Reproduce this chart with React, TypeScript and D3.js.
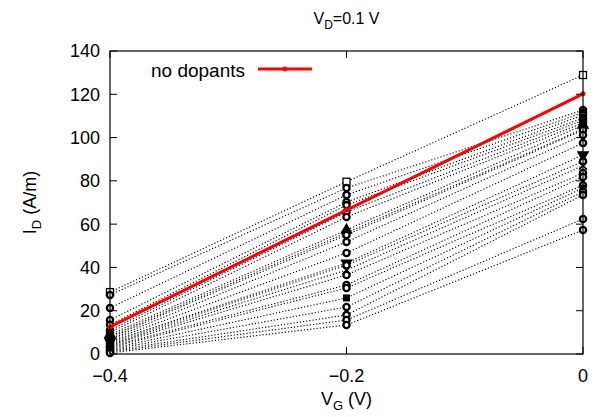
import React from 'react';
import * as d3 from 'd3';

const vg = [-0.4, -0.2, 0];
const noDopants = [12.5, 66.5, 120.2];

// doped samples, value at each gate voltage
const dopedAtM04 = [28.6, 27.3, 21.3, 15.7, 13.5, 11.0, 10.0, 9.0, 8.2, 7.5, 6.8, 6.2, 5.6, 5.0, 4.5, 4.0, 3.5, 3.0, 2.5, 2.0, 1.5, 1.0, 0.5];
const dopedAtM02 = [79.6, 76.7, 73.5, 70.2, 68.8, 65.6, 63.3, 57.3, 56.0, 55.0, 51.8, 46.7, 42.0, 41.0, 38.8, 36.5, 31.9, 30.5, 25.9, 21.7, 18.0, 15.7, 13.4];
const dopedAt0 = [128.9, 112.7, 111.5, 110.4, 109.0, 108.0, 106.8, 105.8, 104.0, 103.5, 101.2, 97.5, 92.0, 89.0, 87.0, 83.6, 81.8, 78.0, 76.7, 75.0, 73.5, 62.4, 57.3];
const markerTypes = ['square', 'circle', 'circle', 'circle', 'circle', 'circle', 'circle', 'triangle', 'star', 'circle', 'circle', 'circle', 'triangleDown', 'circle', 'cross', 'circle', 'circle', 'circle', 'filledSquare', 'circle', 'circle', 'circle', 'circle'];

const xTicks = [-0.4, -0.2, 0];
const yTicks = [0, 20, 40, 60, 80, 100, 120, 140];

const W = 600;
const H = 417;
const left = 110, right = 583, top = 51, bottom = 354;
const font = 'Liberation Sans, Arial, sans-serif';

const x = d3.scaleLinear().domain([-0.4, 0]).range([left, right]);
const y = d3.scaleLinear().domain([0, 140]).range([bottom, top]);

const line = d3.line<[number, number]>().x(d => x(d[0])).y(d => y(d[1]));

const fmt = (v: number) => (v < 0 ? '\u2212' + Math.abs(v) : String(v));

function Marker({ type, cx, cy }: { type: string; cx: number; cy: number }) {
  if (type === 'circle') return <circle cx={cx} cy={cy} r={3.1} fill="white" stroke="black" strokeWidth={2.3} />;
  if (type === 'square') return <rect x={cx - 3.5} y={cy - 3.5} width={7} height={7} fill="white" stroke="black" strokeWidth={1.3} />;
  if (type === 'filledSquare') return <rect x={cx - 3.5} y={cy - 3.5} width={7} height={7} fill="black" />;
  const symMap: Record<string, d3.SymbolType> = {
    triangle: d3.symbolTriangle,
    triangleDown: d3.symbolTriangle,
    star: d3.symbolAsterisk,
    cross: d3.symbolX,
  };
  const p = d3.symbol().type(symMap[type] || d3.symbolCircle).size(42)() || '';
  const rot = type === 'triangleDown' ? 180 : 0;
  const filled = type === 'triangle' || type === 'triangleDown';
  return (
    <path
      d={p}
      transform={`translate(${cx},${cy}) rotate(${rot})`}
      fill={filled ? 'black' : 'none'}
      stroke="black"
      strokeWidth={1.6}
    />
  );
}

export default function App() {
  const series = dopedAtM04.map((_, i) => ({
    pts: [
      [vg[0], dopedAtM04[i]],
      [vg[1], dopedAtM02[i]],
      [vg[2], dopedAt0[i]],
    ] as [number, number][],
    type: markerTypes[i],
  }));
  const red = vg.map((v, i) => [v, noDopants[i]] as [number, number]);

  return (
    <svg width={W} height={H} style={{ position: 'absolute', left: 0, top: 0, background: 'white' }} fontFamily={font}>
      <rect x={0} y={0} width={W} height={H} fill="white" />
      {/* dotted doped lines */}
      {series.map((s, i) => (
        <path key={'l' + i} d={line(s.pts) || ''} fill="none" stroke="black" strokeWidth={1.1} strokeDasharray="1.2,2" />
      ))}
      {series.map((s, i) =>
        s.pts.map((p, j) => <Marker key={'m' + i + '-' + j} type={s.type} cx={x(p[0])} cy={y(p[1])} />)
      )}
      {/* no dopants */}
      <path d={line(red) || ''} fill="none" stroke="#ff0000" strokeWidth={3} />
      {red.map((p, j) => (
        <circle key={'r' + j} cx={x(p[0])} cy={y(p[1])} r={2.5} fill="#ff0000" />
      ))}

      {/* frame */}
      <rect x={left} y={top} width={right - left} height={bottom - top} fill="none" stroke="black" strokeWidth={1.2} />
      {yTicks.map(t => (
        <g key={'yt' + t}>
          <line x1={left} x2={left + 7} y1={y(t)} y2={y(t)} stroke="black" />
          <line x1={right - 7} x2={right} y1={y(t)} y2={y(t)} stroke="black" />
          <text x={left - 10} y={y(t)} dy="0.36em" textAnchor="end" fontSize={18}>
            {t}
          </text>
        </g>
      ))}
      {xTicks.map(t => (
        <g key={'xt' + t}>
          <line x1={x(t)} x2={x(t)} y1={bottom} y2={bottom - 7} stroke="black" />
          <line x1={x(t)} x2={x(t)} y1={top} y2={top + 7} stroke="black" />
          <text x={x(t)} y={bottom + 28} textAnchor="middle" fontSize={18}>
            {fmt(t)}
          </text>
        </g>
      ))}

      {/* legend */}
      <text x={245} y={70} dy="0.36em" textAnchor="end" fontSize={19}>
        no dopants
      </text>
      <line x1={258} x2={312} y1={69} y2={69} stroke="#ff0000" strokeWidth={3} />
      <circle cx={285} cy={69} r={2.5} fill="#ff0000" />

      {/* titles */}
      <text x={(left + right) / 2} y={24} textAnchor="middle" fontSize={16}>
        V<tspan fontSize={12} dy={5}>D</tspan>
        <tspan dy={-5}>=0.1 V</tspan>
      </text>
      <text x={(left + right) / 2} y={405} textAnchor="middle" fontSize={18}>
        V<tspan fontSize={13} dy={5}>G</tspan>
        <tspan dy={-5}> (V)</tspan>
      </text>
      <text transform={`translate(36,${(top + bottom) / 2}) rotate(-90)`} textAnchor="middle" fontSize={18}>
        I<tspan fontSize={13} dy={5}>D</tspan>
        <tspan dy={-5}> (A/m)</tspan>
      </text>
    </svg>
  );
}
